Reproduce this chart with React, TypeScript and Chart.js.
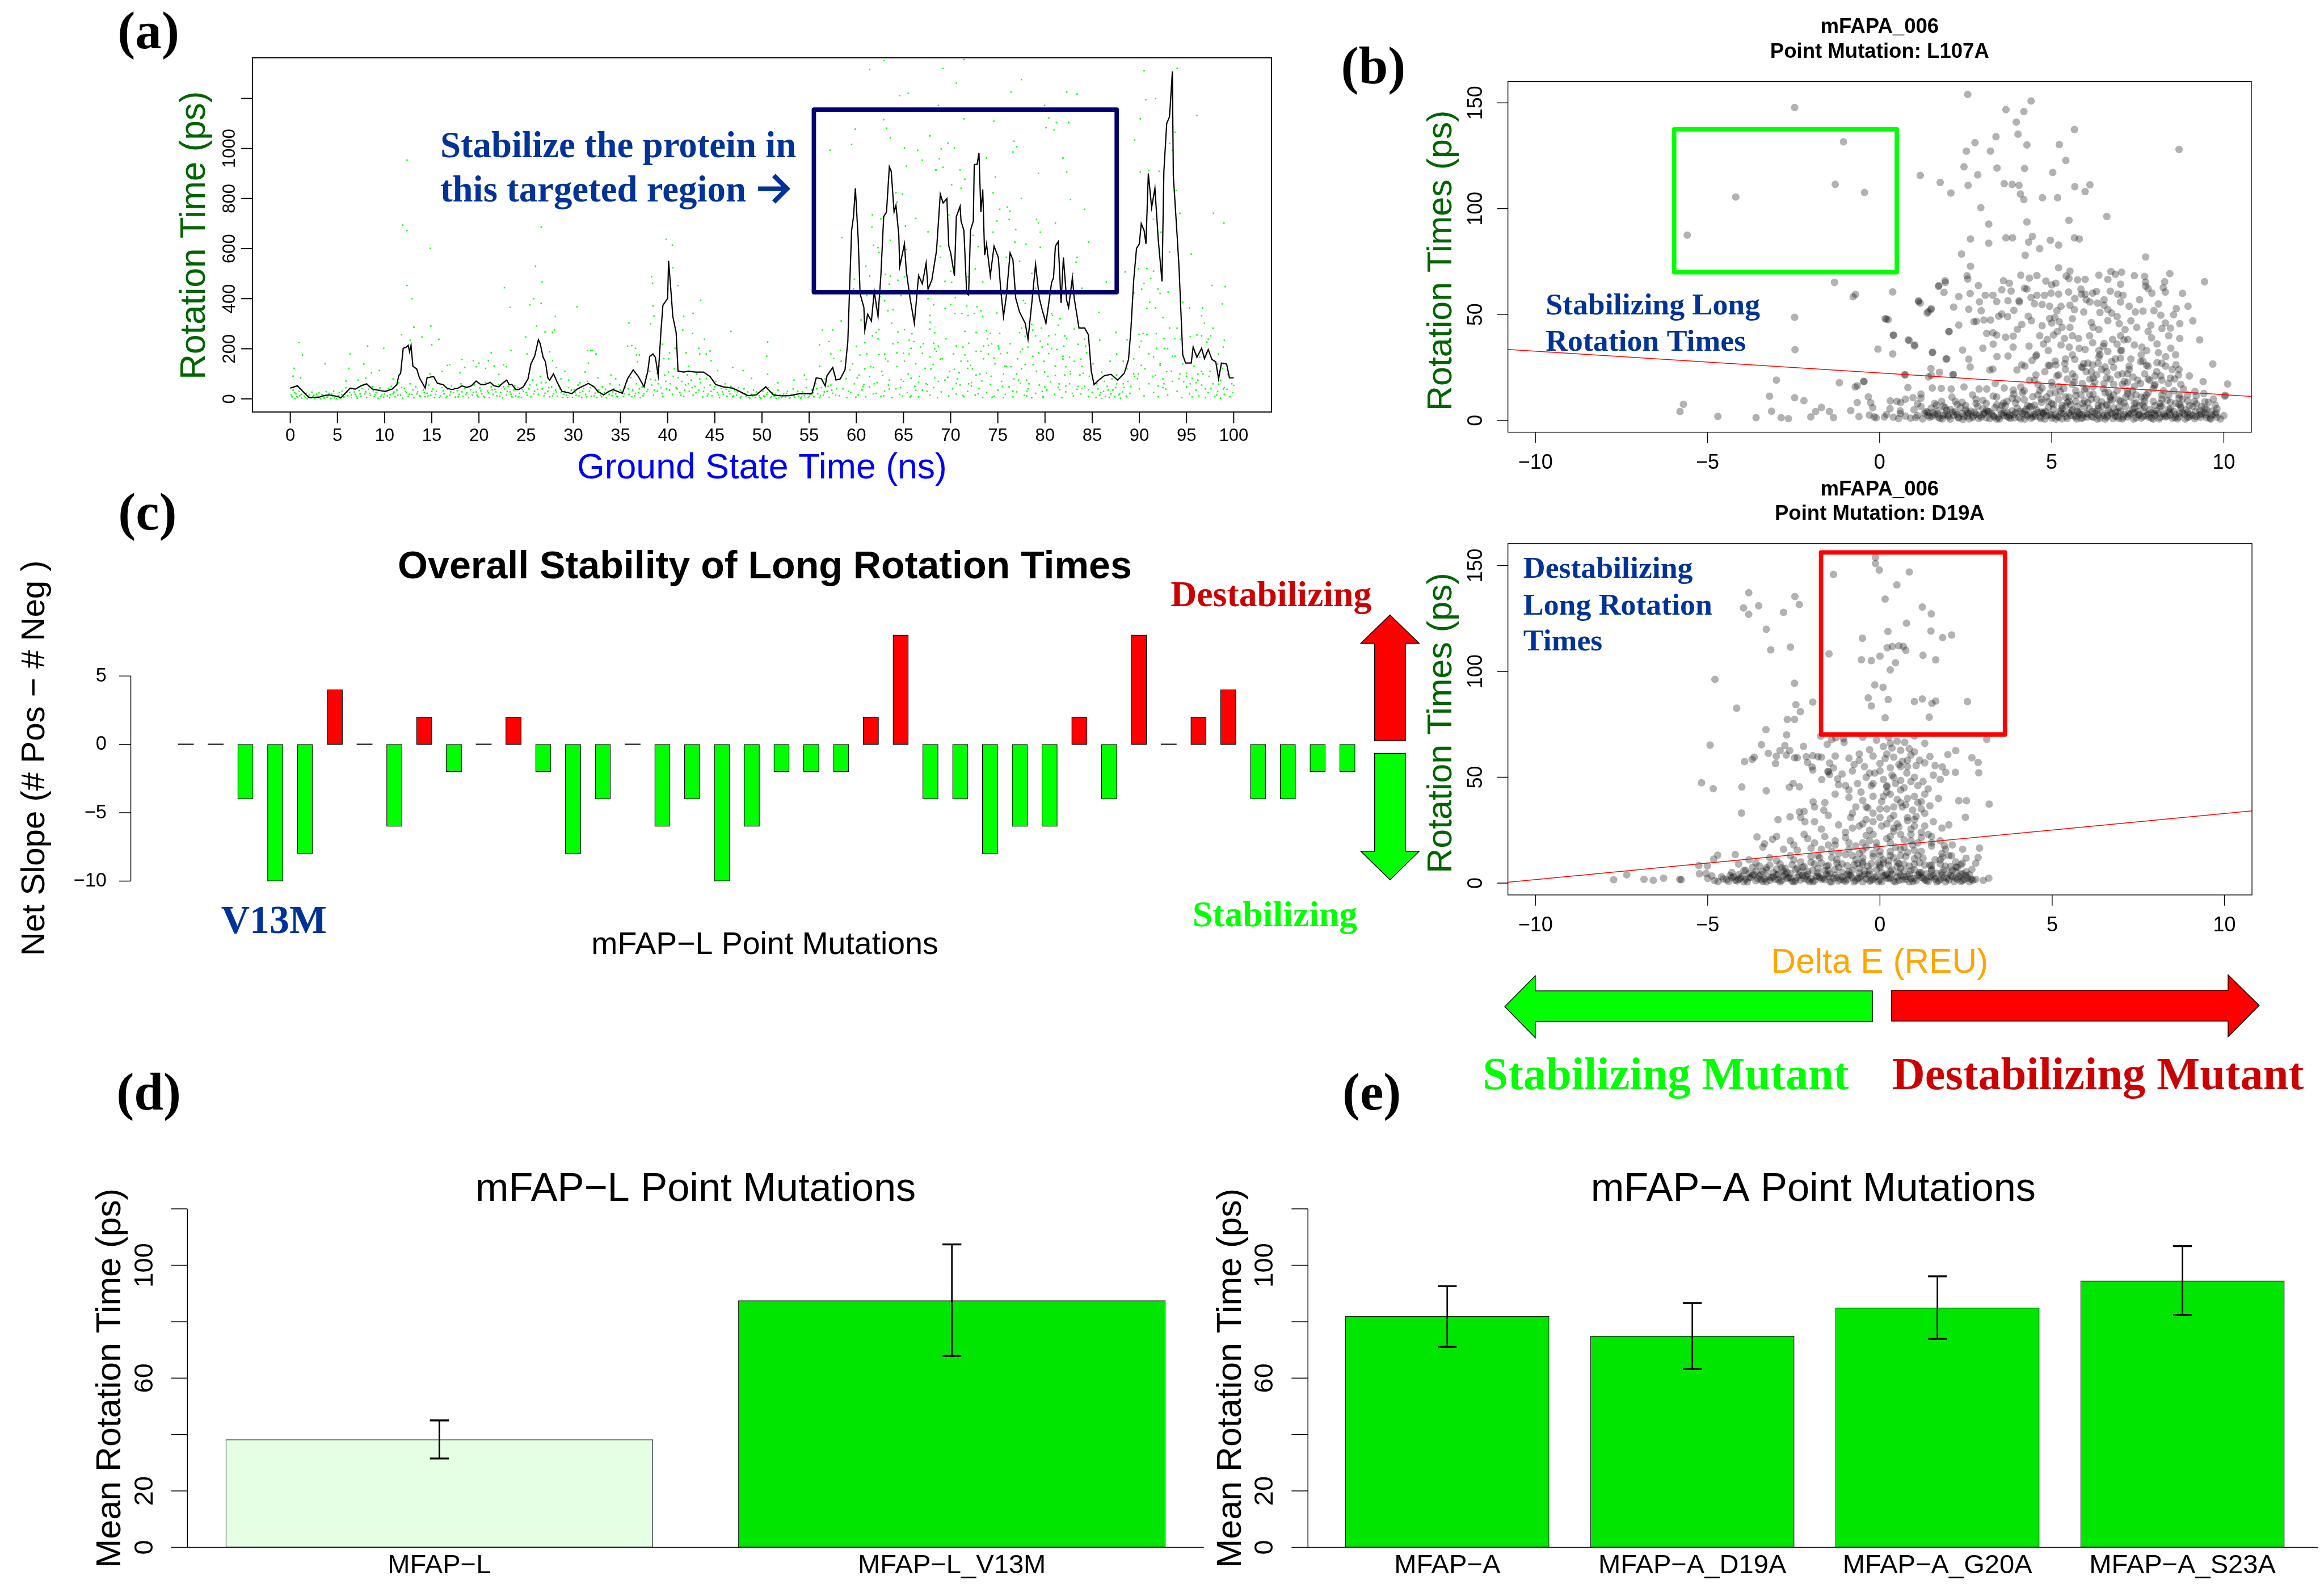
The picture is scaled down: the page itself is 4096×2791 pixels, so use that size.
import React, { useEffect, useRef } from "react";
import { Chart, registerables } from "chart.js";

Chart.register(...registerables);

/* ====================== DATA ====================== */

// (a) moving-average rotation time (black line)
const timeNs = [0,0.75,1.1,1.56,2.0,3.1,3.55,4.1,4.7,5.4,5.9,6.35,6.9,7.5,8.1,8.7,9.5,10.1,10.8,11.3,11.5,11.7,11.97,12.3,12.5,12.65,12.8,13.0,13.4,13.7,14.1,14.3,14.5,15.2,15.6,16.2,16.6,17.1,17.8,18.2,18.7,19.2,19.7,20.2,20.6,21.2,21.6,22.1,22.5,22.95,23.2,23.5,23.9,24.2,24.7,25.2,25.5,25.9,26.1,26.3,26.5,26.8,27.05,27.3,27.5,27.9,28.3,28.8,29.4,29.85,30.4,31.1,31.6,32.2,32.6,33.2,33.8,34.2,35.2,35.75,36.35,36.9,37.5,37.9,38.1,38.45,38.7,39.0,39.3,39.5,40.0,40.1,40.3,40.55,40.9,41.1,41.7,42.2,42.9,43.8,44.5,45.1,45.9,46.9,47.6,48.5,49.4,50.4,51.2,52.0,52.9,54.1,55.3,55.75,56.3,56.7,56.9,57.5,57.85,58.3,58.8,59.1,59.3,59.5,59.7,59.9,60.2,60.4,60.8,60.9,61.2,61.6,61.9,62.3,62.6,62.9,63.2,63.5,63.7,64.0,64.2,64.5,64.6,65.1,65.3,65.7,66.15,66.6,67.0,67.4,67.6,68.0,68.5,68.9,69.2,69.6,69.8,70.0,70.4,70.6,71.0,71.1,71.4,71.7,71.9,72.1,72.4,72.5,72.8,73.0,73.2,73.4,73.6,73.8,74.2,74.6,75.05,75.3,75.6,75.9,76.3,76.6,76.9,77.3,77.9,78.2,78.6,79.0,79.4,79.7,80.1,80.4,80.7,80.9,81.1,81.4,81.7,81.95,82.3,82.5,82.9,83.1,83.6,84.2,84.6,84.9,85.2,85.7,86.3,87.0,87.7,88.4,88.85,89.1,89.4,89.7,90.0,90.2,90.5,90.7,90.95,91.3,91.65,92.0,92.4,92.6,92.9,93.2,93.5,93.6,94.0,94.2,94.6,94.9,95.5,95.7,96.1,96.6,96.9,97.3,97.7,98.1,98.4,98.7,99.25,99.55,100.0];
const rotationLine = [43,52,39,21,5,7,13,16,12,5,25,43,39,52,60,39,33,30,39,57,93,102,202,207,214,188,214,130,120,84,57,43,84,89,62,57,43,37,43,52,46,52,71,57,57,66,52,48,62,75,57,57,37,37,48,80,139,170,202,236,220,166,148,84,75,100,66,30,25,21,39,52,62,48,30,16,30,37,22,80,116,89,48,111,170,179,166,93,275,374,401,551,456,329,265,111,107,111,107,107,89,57,48,43,30,13,16,48,16,12,13,21,21,84,80,52,93,125,75,80,116,229,456,673,728,841,637,420,365,275,338,311,429,329,492,728,746,927,909,746,773,655,528,619,510,401,302,492,460,542,438,474,592,818,782,800,610,583,492,728,769,710,673,420,415,673,710,936,936,982,746,836,574,619,492,610,565,438,329,410,583,555,401,347,302,238,383,537,401,356,302,383,465,483,610,628,383,565,392,365,483,401,283,283,256,111,57,75,93,98,75,102,157,275,474,601,619,700,673,619,900,764,841,637,469,909,1100,1127,1308,891,655,528,175,143,143,207,166,202,161,197,157,148,80,143,139,84,84];

// (a) individual rotation times (green dots)
const greenEarly = [[0.2,8],[0.3,35],[0.5,2],[0.6,20],[0.8,5],[1.0,12],[1.2,3],[1.4,28],[1.6,6],[1.8,1],[2.0,15],[2.2,4],[2.4,9],[2.6,2],[2.8,18],[3.0,5],[3.2,1],[3.4,11],[3.6,3],[3.9,7],[4.1,22],[4.3,2],[4.5,10],[4.7,4],[4.9,1],[5.1,14],[5.3,3],[5.5,30],[5.7,8],[5.9,45],[6.1,12],[6.3,25],[6.5,5],[6.7,40],[6.9,18],[7.1,3],[7.3,33],[7.5,10],[7.7,55],[7.9,20],[8.1,6],[8.3,38],[8.5,14],[8.7,48],[8.9,9],[9.1,26],[9.3,2],[9.5,44],[9.7,16],[9.9,7],[10.1,30],[10.3,12],[10.5,4],[10.7,50],[10.9,20],[11.1,8],[11.3,35],[11.5,65],[11.7,15],[11.9,3],[12.1,42],[12.3,25],[12.5,10],[12.7,60],[12.9,18],[13.1,5],[13.3,48],[13.5,28],[13.7,12],[13.9,70],[14.1,35],[14.3,8],[14.5,22],[14.7,55],[14.9,15],[15.1,40],[15.3,6],[15.5,30],[15.7,62],[15.9,12],[16.1,45],[16.3,20],[16.5,4],[16.7,38],[16.9,14],[17.1,52],[17.3,25],[17.5,7],[17.7,33],[17.9,18],[18.1,60],[18.3,10],[18.5,42],[18.7,24],[18.9,5],[19.1,36],[19.3,15],[19.5,55],[19.7,28],[19.9,8],[20.1,44],[20.3,20],[20.5,10],[20.7,65],[20.9,32],[21.1,6],[21.3,48],[21.5,18],[21.7,38],[21.9,12],[22.1,58],[22.3,25],[22.5,4],[22.7,40],[22.9,15],[23.1,50],[23.3,28],[23.5,8],[23.7,35],[23.9,12],[24.1,45],[24.3,22],[24.5,5],[24.7,30],[24.9,60],[25.1,15],[25.3,40],[25.5,8],[25.7,75],[25.9,30],[26.1,55],[26.3,18],[26.5,90],[26.7,40],[26.9,12],[27.1,65],[27.3,30],[27.5,8],[27.7,48],[27.9,20],[28.1,35],[28.3,10],[28.5,52],[28.7,25],[28.9,5],[29.1,30],[29.3,14],[29.5,45],[29.7,22],[29.9,6],[30.1,38],[30.3,15],[30.5,55],[30.7,25],[30.9,5],[31.1,42],[31.3,18],[31.5,70],[31.7,30],[31.9,10],[32.1,50],[32.3,22],[32.5,6],[32.7,35],[32.9,14],[33.1,48],[33.3,25],[33.5,4],[33.7,30],[33.9,60],[34.1,12],[34.3,40],[34.5,20],[34.7,8],[34.9,55],[35.1,28],[35.3,10],[35.5,45],[35.7,70],[35.9,18],[36.1,85],[36.3,35],[36.5,12],[36.7,60],[36.9,25],[37.1,6],[37.3,48],[37.5,20],[37.7,90],[37.9,38],[38.1,110],[38.3,55],[38.5,15],[38.7,75],[38.9,30],[39.1,130],[39.3,45],[39.5,10],[39.7,95],[39.9,40],[40.1,160],[40.3,60],[40.5,18],[40.7,120],[40.9,45],[41.1,85],[41.3,25],[41.5,70],[41.7,10],[41.9,55],[42.1,95],[42.3,30],[42.5,75],[42.7,15],[42.9,50],[43.1,100],[43.3,35],[43.5,65],[43.7,8],[43.9,45],[44.1,80],[44.3,20],[44.5,55],[44.7,12],[44.9,38],[45.1,70],[45.3,25],[45.5,5],[45.7,42],[45.9,18],[46.1,60],[46.3,10],[46.5,30],[46.7,50],[46.9,8],[47.1,35],[47.3,15],[47.5,45],[47.7,4],[47.9,22],[48.1,40],[48.3,10],[48.5,28],[48.7,3],[48.9,18],[49.1,35],[49.3,6],[49.5,22],[49.7,12],[49.9,2],[50.1,30],[50.3,8],[50.5,18],[50.7,45],[50.9,4],[51.1,25],[51.3,10],[51.5,2],[51.7,35],[51.9,14],[52.1,5],[52.3,20],[52.5,8],[52.7,30],[52.9,2],[53.1,15],[53.3,40],[53.5,6],[53.7,22],[53.9,10],[54.1,3],[54.3,28],[54.5,12],[54.7,45],[54.9,5],[55.1,18],[55.3,35],[55.5,8],[55.7,60],[55.9,20],[56.1,4],[56.3,45],[56.5,15],[56.7,80],[56.9,30],[57.1,6],[57.3,55],[57.5,22],[57.7,100],[57.9,40]];
const greenEarlyMore = [[0.1,15],[0.45,25],[0.7,9],[0.95,30],[1.15,18],[1.5,11],[1.7,22],[1.95,7],[2.3,27],[2.5,14],[2.75,6],[3.05,24],[3.35,17],[3.55,8],[3.8,29],[4.0,13],[4.4,19],[4.6,31],[4.85,9],[5.2,25],[5.45,17],[5.65,6],[6.0,28],[6.2,36],[6.45,15],[6.8,28],[7.0,11],[7.4,20],[7.6,42],[8.0,28],[8.4,22],[8.8,33],[9.0,17],[9.4,37],[9.6,9],[10.0,20],[10.4,42],[10.6,17],[11.0,27],[11.4,15],[11.8,45],[12.2,30],[12.6,18],[13.0,36],[13.4,20],[13.8,9],[14.2,25],[14.6,12],[15.0,30],[15.4,18],[15.8,6],[16.2,32],[16.6,10],[17.0,28],[17.4,42],[17.8,8],[18.2,28],[18.6,17],[19.0,48],[19.4,25],[19.8,14],[20.2,32],[20.6,6],[21.0,25],[21.4,36],[21.8,28],[22.2,10],[22.6,48],[23.0,30],[23.4,18],[23.8,52],[24.2,8],[24.6,38],[25.0,25],[25.4,55],[25.8,20],[26.2,38],[26.6,65],[27.0,22],[27.4,45],[27.8,12],[28.2,28],[28.6,40],[29.0,18],[29.4,6],[29.8,35],[30.2,25],[30.6,12],[31.0,30],[31.4,8],[31.8,45],[32.2,12],[32.6,28],[33.0,8],[33.4,38],[33.8,18],[34.2,28],[34.6,10],[35.0,35],[35.4,20],[35.8,40],[36.2,8],[36.6,22],[37.0,40],[37.4,12],[37.8,30],[38.2,78],[38.6,35],[39.0,60],[39.4,22],[39.8,70],[40.2,35],[40.6,90],[41.0,40],[41.4,15],[41.8,35],[42.2,60],[42.6,45],[43.0,25],[43.4,80],[43.8,30],[44.2,12],[44.6,30],[45.0,48],[45.4,15],[45.8,28],[46.2,38],[46.6,20],[47.0,12],[47.4,28],[47.8,8],[48.2,20],[48.6,6],[49.0,12],[49.4,28],[49.8,5],[50.2,12],[50.6,25],[51.0,8],[51.4,18],[51.8,4],[52.2,12],[52.6,22],[53.0,6],[53.4,12],[53.8,30],[54.2,8],[54.6,20],[55.0,10],[55.4,25],[55.8,40],[56.2,12],[56.6,28],[57.0,50],[57.4,35],[57.8,15]];
const greenLate = [[58.2,12],[58.6,40],[59.0,5],[59.4,25],[59.8,60],[60.2,15],[60.6,35],[61.0,8],[61.4,48],[61.8,20],[62.2,65],[62.6,10],[63.0,30],[63.4,55],[63.8,5],[64.2,40],[64.6,18],[65.0,70],[65.4,25],[65.8,12],[66.2,50],[66.6,8],[67.0,35],[67.4,60],[67.8,15],[68.2,45],[68.6,5],[69.0,28],[69.4,75],[69.8,12],[70.2,40],[70.6,20],[71.0,55],[71.4,8],[71.8,30],[72.2,65],[72.6,15],[73.0,42],[73.4,5],[73.8,25],[74.2,58],[74.6,10],[75.0,35],[75.4,70],[75.8,18],[76.2,48],[76.6,8],[77.0,28],[77.4,62],[77.8,14],[78.2,40],[78.6,5],[79.0,22],[79.4,55],[79.8,10],[80.2,35],[80.6,68],[81.0,18],[81.4,45],[81.8,6],[82.2,28],[82.6,60],[83.0,12],[83.4,38],[83.8,20],[84.2,50],[84.6,8],[85.0,25],[85.4,5],[85.6,40],[85.8,15],[86.0,2],[86.2,30],[86.4,10],[86.6,50],[86.8,5],[87.0,20],[87.2,35],[87.4,8],[87.6,60],[87.8,15],[88.0,3],[88.2,28],[88.4,45],[88.6,10],[88.8,70],[89.0,22],[89.5,90],[90.0,40],[90.5,12],[91.0,60],[91.5,25],[92.0,8],[92.5,45],[93.0,15],[93.5,70],[94.0,30],[94.5,5],[95.0,48],[95.3,20],[95.6,8],[96.0,35],[96.3,12],[96.6,55],[97.0,5],[97.3,25],[97.6,42],[98.0,10],[98.3,30],[98.6,3],[99.0,18],[99.3,38],[99.6,8],[99.9,25]];
const greenLateMore = [[58.4,150],[58.9,80],[59.2,30],[59.6,140],[60.0,210],[60.3,95],[60.7,50],[61.1,180],[61.5,130],[61.9,60],[62.3,240],[62.7,110],[63.1,160],[63.5,75],[63.9,220],[64.3,130],[64.7,45],[65.1,150],[65.5,100],[65.9,260],[66.3,140],[66.7,90],[67.1,220],[67.5,30],[67.9,120],[68.3,200],[68.7,70],[69.1,160],[69.5,240],[69.9,110],[70.3,180],[70.7,80],[71.1,150],[71.5,270],[71.9,60],[72.3,120],[72.7,190],[73.1,100],[73.5,160],[73.9,240],[74.3,90],[74.7,140],[75.1,200],[75.5,50],[75.9,130],[76.3,220],[76.7,80],[77.1,160],[77.5,120],[77.9,250],[78.3,60],[78.7,170],[79.1,110],[79.5,230],[79.9,150],[80.3,90],[80.7,200],[81.1,130],[81.5,60],[81.9,170],[82.3,240],[82.7,100],[83.1,150],[83.5,50],[83.9,130],[84.3,210],[84.7,90],[85.1,140],[85.5,60],[85.9,25],[86.3,70],[86.7,35],[87.1,80],[87.5,45],[87.9,20],[88.3,60],[88.7,120],[89.1,50],[89.4,160],[89.8,80],[90.2,230],[90.6,120],[91.0,180],[91.4,90],[91.8,260],[92.2,140],[92.6,60],[93.0,200],[93.4,110],[93.8,170],[94.2,80],[94.6,140],[95.0,90],[95.4,60],[95.8,130],[96.2,75],[96.6,110],[97.0,40],[97.4,90],[97.8,60],[98.2,15],[98.6,75],[99.0,45],[99.4,100],[99.8,60]];
const greenHighEarly = [[12.37,953],[11.9,694],[12.37,672],[14.85,601],[12.37,453],[12.9,400],[13.1,286],[14.9,291],[13.95,247],[15.75,238],[15.0,216],[11.8,256],[12.7,234],[0.93,225],[1.3,175],[0.4,122],[0.3,91],[1.1,84],[3.7,140],[6.35,179],[6.2,122],[8.2,211],[7.8,139],[8.6,104],[9.45,113],[9.9,202],[8.0,82],[5.9,71],[7.2,75],[10.9,80],[26.6,687],[26.0,530],[26.7,467],[22.7,444],[25.8,400],[25.4,376],[26.6,381],[23.3,365],[30.4,368],[28.1,329],[28.0,275],[27.8,265],[26.1,291],[24.96,247],[27.0,267],[25.1,179],[23.4,193],[21.3,184],[27.5,188],[31.5,193],[31.85,193],[31.6,143],[32.4,179],[27.8,152],[28.2,125],[31.25,107],[18.2,157],[19.4,152],[20.0,143],[21.0,152],[21.6,131],[22.6,137],[22.9,128],[19.7,128],[16.65,134],[16.9,137],[16.1,109],[14.8,100],[18.5,125],[18.0,104],[20.7,122],[22.1,98],[29.1,110],[28.7,80],[29.5,75],[30.7,64]];
const greenHighMid = [[62.95,1351],[61.4,1315],[64.6,1211],[65.5,1220],[62.9,1115],[63.2,1081],[59.9,1077],[63.6,1042],[59.5,1016],[57.2,993],[65.1,1002],[66.5,993],[67.0,953],[65.3,930],[67.8,1050],[68.4,914],[64.2,823],[64.9,818],[64.35,787],[61.7,735],[62.6,719],[66.3,721],[65.2,690],[61.65,687],[58.5,644],[67.6,667],[61.8,614],[62.3,604],[63.6,633],[65.3,596],[62.4,585],[61.0,530],[61.4,490],[63.1,497],[63.6,490],[65.1,488],[64.4,474],[59.8,478],[63.5,458],[59.7,440],[61.1,412],[62.5,409],[64.75,412],[63.0,391],[67.6,400],[62.1,367],[63.35,352],[63.9,356],[60.5,315],[58.4,311],[63.75,302],[64.4,267],[65.1,276],[62.4,276],[62.1,265],[61.7,252],[67.8,279],[56.4,275],[57.5,275],[57.1,229],[60.9,225],[56.1,216],[64.4,225],[65.6,234],[66.1,229],[66.8,207],[65.8,202],[60.4,175],[62.4,177],[63.0,179],[64.3,184],[65.0,182],[65.6,179],[67.0,182],[63.35,150],[67.3,122],[68.15,138],[60.9,120],[61.8,125],[59.3,116],[57.3,179],[57.6,161],[58.3,193],[56.1,130],[60.1,84],[61.4,89],[62.8,93],[64.75,77],[65.8,82],[66.6,66],[67.55,57],[66.3,34],[63.5,39],[60.8,57],[62.1,22],[59.95,7],[62.9,12],[64.9,12],[65.7,7],[39.85,637],[40.5,614],[38.3,488],[38.4,462],[40.55,524],[41.1,453],[43.5,394],[38.45,371],[42.7,342],[41.7,329],[38.55,331],[35.9,304],[38.2,300],[46.7,270],[42.65,261],[41.6,275],[43.9,238],[35.75,211],[36.2,213],[36.6,202],[39.45,218],[50.6,227],[40.8,202],[43.3,202],[36.7,175],[37.0,175],[43.4,179],[44.1,179],[44.5,191],[50.5,170],[32.4,177],[32.0,193],[44.6,152],[41.95,184],[40.2,184],[39.6,161],[36.8,148],[48.0,113],[46.9,125],[45.3,113],[42.2,130],[38.9,102],[40.1,107],[34.5,80],[34.0,95],[32.6,84],[54.5,95],[54.7,77],[51.7,64],[48.9,82],[50.6,98],[53.4,75]];
const greenHighLate = [[71.4,1355],[69.2,1320],[70.6,1261],[77.5,1275],[76.4,1226],[82.3,1226],[83.4,1217],[90.5,1311],[94.0,1320],[90.7,1195],[91.7,1199],[68.7,1172],[79.96,1172],[71.4,1118],[74.6,1109],[80.4,1122],[81.2,1104],[82.5,1104],[80.1,1083],[80.97,1074],[90.1,1118],[96.1,1131],[67.8,1051],[93.8,1065],[89.5,1034],[69.7,1021],[70.4,1002],[76.7,1029],[77.0,1007],[76.6,986],[69.0,998],[93.2,1020],[93.5,993],[68.8,959],[73.8,962],[81.9,962],[69.2,925],[68.5,914],[71.0,914],[82.3,906],[79.3,900],[74.75,886],[71.5,877],[91.0,912],[92.1,909],[90.1,906],[70.1,855],[71.1,841],[74.5,823],[77.5,800],[82.7,796],[93.9,832],[94.3,741],[97.85,741],[98.97,702],[75.2,757],[76.0,766],[76.3,750],[84.2,757],[91.5,717],[69.8,735],[74.9,710],[76.2,717],[79.1,717],[79.3,702],[81.1,702],[72.4,653],[74.5,666],[76.9,676],[79.5,666],[92.3,666],[84.6,626],[76.8,626],[78.0,617],[79.5,605],[93.2,587],[92.1,585],[95.5,578],[72.9,608],[68.9,610],[68.9,565],[75.9,565],[77.3,549],[83.4,565],[83.3,546],[72.6,519],[70.0,510],[78.6,501],[82.95,501],[88.5,507],[89.9,519],[90.8,521],[91.5,510],[91.2,481],[71.85,487],[69.4,469],[70.1,465],[73.4,467],[86.5,467],[83.9,442],[79.0,442],[97.7,453],[99.1,448],[90.5,460],[91.96,439],[90.25,438],[93.05,427],[92.2,421],[89.4,422],[70.5,404],[94.6,386],[91.1,386],[68.2,376],[70.0,377],[77.9,381],[77.7,392],[98.8,379],[71.7,370],[72.8,368],[90.8,361],[91.7,363],[95.3,363],[96.7,363],[69.4,361],[73.2,352],[85.7,345],[74.9,343],[80.7,341],[71.85,333],[72.5,341],[71.2,341],[67.8,333],[70.45,341],[73.4,329],[96.6,332],[78.6,297],[80.8,333],[81.6,320],[92.5,324],[96.9,302],[97.8,282],[93.2,283],[83.1,279],[79.6,283],[77.5,283],[81.4,294],[67.8,306],[68.3,264],[72.7,265],[73.8,272],[74.2,261],[75.2,261],[77.3,264],[78.7,275],[79.0,252],[80.4,252],[81.1,256],[82.1,252],[87.5,265],[89.97,258],[90.4,261],[90.8,256],[94.0,282],[95.4,249],[96.1,255],[96.6,252],[97.55,252],[94.35,238],[97.3,238],[99.0,234],[92.6,241],[93.75,241],[97.15,227],[84.2,238],[85.8,234],[88.7,236],[68.2,222],[71.9,222],[74.35,220],[68.7,211],[70.6,211],[71.3,207],[73.5,211],[74.0,213],[75.05,211],[78.2,207],[79.7,207],[80.3,218],[81.25,197],[82.0,211],[83.5,218],[90.0,207],[92.7,202],[98.9,207],[91.8,202],[77.6,199],[68.5,190],[73.2,190],[77.4,188],[84.4,184],[98.4,179],[67.8,168],[68.9,159],[71.5,175],[74.0,179],[74.6,163],[75.3,181],[76.0,184],[79.3,184],[80.4,181],[81.9,159],[82.6,166],[83.8,159],[86.9,150],[87.6,179],[88.3,150],[91.5,168],[93.5,170],[96.0,179],[96.4,166],[71.8,150],[72.1,134],[75.75,131],[76.4,128],[77.9,137],[78.75,137],[81.1,131],[82.2,128],[90.2,134],[92.2,134],[98.3,139],[98.8,122],[71.8,122],[70.4,118],[70.9,104],[75.6,100],[77.0,100],[79.96,107],[82.7,109],[86.0,107],[92.9,109],[95.0,102],[96.75,100],[97.5,110],[94.3,100],[72.7,95],[73.8,102],[69.7,86],[68.3,84],[81.1,93],[82.1,95],[83.7,95],[84.05,102],[87.6,95],[89.4,100],[89.9,100],[91.7,93],[92.5,80],[95.6,82],[96.2,99],[73.3,71],[77.2,75],[78.05,75],[70.6,61],[94.7,68],[96.0,64],[98.4,59],[100.0,54],[92.0,52],[72.2,51],[79.96,48],[81.4,46],[82.2,51],[83.9,41],[84.6,37],[81.55,37],[92.8,39],[98.9,39],[78.1,32],[79.7,30],[76.6,31],[82.9,22],[71.3,13],[78.05,12],[79.8,5],[74.4,7],[75.6,5],[72.9,21]];

const aXTicks = [0,5,10,15,20,25,30,35,40,45,50,55,60,65,70,75,80,85,90,95,100];
const aYTicks = [0,200,400,600,800,1000,1200];
const aYLabels = ["0","200","400","600","800","1000"];
const targetRegion = { x0: 55.5, x1: 87.6, y0: 426, y1: 1155 };

// (b) top: L107A  (Delta E vs rotation time)
const l107aSparse = [[2.56,154],[-2.47,147.8],[4.4,150.9],[3.67,146.8],[4.19,145.9],[3.97,140.9],[5.66,137.4],[4.02,135.2],[3.38,134],[-1.05,131.6],[2.77,131.2],[4.28,130.1],[5.22,130.3],[2.52,127.2],[3.22,127.2],[8.7,128],[2.45,119.8],[3.41,119.2],[4.21,119],[5.41,122.8],[2.85,116],[5.03,117.1],[1.18,115.7],[1.76,112.4],[2.57,111],[3.62,111.8],[3.85,111.5],[4.05,111],[5.67,110.4],[6.11,111.3],[5.97,108.1],[-1.29,111.5],[-0.44,107.7],[-4.18,105.5],[2.07,107.4],[4.09,106.9],[4.19,104.3],[4.73,105.2],[5.17,105.2],[2.94,100.5],[6.6,96.3],[4.28,93.7],[5.5,94.5],[3.17,92.7],[-5.59,87.5],[2.64,85.7],[3.67,86.2],[3.86,86.2],[4.44,86.9],[5.66,86.2],[5.8,85.7],[3.17,83.7],[4.96,85.1],[5.2,82.8],[4.33,84.2],[4.65,81.1],[2.38,78.6],[7.73,77.2],[4.23,78],[2.64,72.8],[5.2,72.1],[-1.31,65.2],[1.9,66],[1.72,63.7],[2.54,68.3],[0.38,60.7],[-0.7,59.5],[-0.77,58.4],[1.13,56.1],[1.41,51.3],[1.5,52.8],[-2.47,48.7],[0.19,47.8],[2.02,42],[0.4,40.2],[0.83,38],[1.01,35.2],[-2.46,33.4],[-0.05,33.7],[0.38,31.4],[1.53,32],[1.93,29],[-3,19],[-1.17,17.8],[-0.47,18.4],[-0.65,16.3],[0.73,21.6],[1.5,21.3],[1.74,22.7],[2.14,21.7],[-5.7,7.6],[-5.8,4.2],[-4.7,1.9],[-3.59,1.3],[-3.2,11.4],[-3.14,4.3],[-2.86,1.3],[-2.65,0.8],[-2.47,10.7],[-2.2,9.3],[-2,1.6],[-1.86,4.2],[-1.69,6.1],[-1.46,4.2],[-1.34,1.3],[-0.84,4.6],[-0.65,8.4],[-0.33,11.1],[-0.26,8.3],[-0.16,1.6],[0.14,1.6],[0.31,9.2],[0.61,8.4],[0.75,10],[0.97,10.7],[9.68,26.6],[10.03,11.4]];
const l107aBand = [[1.71,63.3],[1.91,65.1],[2.56,66.8],[2.87,63.7],[1.87,60.5],[2.3,58.5],[2.63,59.9],[3.07,59.1],[3.29,59.1],[3.55,61.7],[3.77,64.8],[3.82,61.1],[4.05,56.5],[4.21,62.4],[4.28,62],[4.57,59.1],[4.79,59.1],[4.98,60.1],[5.2,59.6],[5.49,60.6],[5.67,57.5],[5.86,59.6],[5.97,59.6],[6.19,60.1],[6.3,60.9],[6.52,57],[6.92,59.6],[7,64.3],[7.07,59.1],[7.73,63.4],[7.8,62.2],[7.91,60.1],[8.24,62.7],[8.3,60.6],[4.1,68.6],[4.35,67.2],[4.57,68.4],[4.83,65.8],[5.12,64.8],[5.42,68.2],[5.53,70.5],[5.75,66.4],[5.97,66.6],[6.37,68.6],[6.63,66.6],[6.72,70.3],[6.85,69],[7.03,70],[7.4,68.4],[7.73,65.3],[8.28,65.5],[8.43,69.3],[9.44,65.5],[1.13,56.5],[1.18,55.4],[2.15,53.5],[2.59,52.5],[2.95,51.8],[3.4,56.1],[3.73,56.5],[4.06,55.9],[4.5,55.1],[4.72,54.7],[4.94,53.9],[5.15,51.8],[5.27,53.9],[5.53,54.4],[5.66,52.3],[5.93,51.2],[6.11,55.9],[6.33,55.4],[6.52,54.4],[6.63,52.3],[6.74,50.7],[7,55.9],[7.25,53.9],[7.43,51.2],[7.65,51.6],[7.97,51.8],[8.17,49.7],[8.54,49.9],[8.62,52.8],[8.96,53.9],[0.16,48.1],[0.25,47.6],[1.38,50.7],[1.49,52.3],[2.74,46.6],[2.81,46.8],[3.03,47.4],[3.22,47.4],[3.46,49.2],[3.55,50.2],[3.72,49],[4.13,45.3],[4.32,49.2],[4.41,47.1],[4.72,44.7],[4.94,48.1],[5.09,48.6],[5.22,46.6],[5.53,43.9],[6.15,46.2],[6.37,42.9],[6.63,47.1],[6.96,45.7],[7.13,42.9],[7.47,43.9],[7.88,45],[8.2,43.4],[8.45,43.6],[8.72,45.7],[0.4,40.3],[0.86,37.7],[1.02,35.6],[1.54,32.2],[2.01,41.9],[2.41,33.2],[3,34.1],[3.11,41.1],[3.29,41.4],[3.4,40.3],[3.66,39.3],[3.88,39.8],[3.88,34.6],[4.34,35.1],[4.56,30.9],[4.76,36.1],[4.87,38.2],[5.05,40.3],[5.16,41.9],[5.27,35.6],[5.37,38.7],[5.51,34.6],[5.78,38.7],[5.97,33.5],[6.19,36.7],[6.37,33],[6.52,36.3],[6.63,32.5],[6.77,38.2],[7.03,33],[7.21,38.2],[7.4,35.6],[7.62,34.6],[7.76,33],[8.06,36.1],[8.31,30.1],[8.46,34.1],[8.72,38.7],[0.74,21.5],[1.42,20.5],[1.49,24.5],[1.95,29.1],[2.13,21.5],[2.59,28.9],[2.63,25.2],[3.2,23.8],[3.29,24.2],[3.41,30.1],[3.73,30.4],[3.99,23.8],[4.13,26.2],[4.22,25.6],[4.43,28.3],[4.54,30.4],[4.94,25.9],[5.12,26.2],[5.38,26.8],[5.6,30.9],[5.67,28.8],[5.86,25.2],[5.93,26.8],[6.19,26.2],[6.37,29.9],[6.55,25.2],[6.74,27.8],[7,29.4],[7.25,25.6],[7.58,27.8],[7.8,25.6],[8.06,27.3],[8.31,25.6],[8.61,26.2],[8.68,21.5],[9.4,18.3],[-0.71,15.8],[-0.45,18.4],[0.82,15.5],[1.2,12.4],[1.53,15.3],[1.79,15.1],[2.08,14.8],[2.45,15.8],[2.89,14.8],[3.11,14.8],[3.36,17.4],[3.62,15.3],[3.88,14.3],[4.1,15.8],[4.35,18.9],[4.54,21.5],[4.72,15.3],[5.01,16.3],[5.2,21.5],[5.45,19.5],[5.67,20.5],[5.89,17.4],[6.11,19.5],[6.3,21.5],[6.52,17.4],[6.7,19.5],[6.92,21.5],[7.11,18.4],[7.36,20.5],[7.58,17.4],[7.8,19.5],[7.98,16.3],[8.17,21],[8.39,17.4],[8.57,19.5],[8.83,14.8],[9.16,13.7],[9.42,12.7],[10.11,17.2],[10.04,11.9],[4.6,12],[4.9,9],[5.1,13],[5.3,7],[5.5,11],[5.7,14],[5.9,8],[6.1,12],[6.3,10],[6.5,15],[6.6,7],[6.8,12],[7,9],[7.2,14],[7.4,8],[7.6,11],[7.8,13],[8,7],[8.2,10],[8.4,12],[8.6,8],[8.8,10],[9,7],[4,10],[4.3,7],[3.7,9],[3.4,11],[3.1,8],[2.8,10],[2.5,7],[2.2,9],[1.9,6],[1.6,8],[5,18],[5.6,17],[6.2,16],[6.8,17],[7.4,16],[8,17],[6,23],[6.6,23],[7.2,22],[5.4,24],[7.7,22]];
const l107aBandMore = [[2.3,45],[2.9,56],[3.3,36],[3.6,66],[4.0,43],[4.4,58],[4.65,40],[5.0,64],[5.3,44],[5.6,48],[5.85,62],[6.1,40],[6.4,51],[6.7,61],[7.0,40],[7.3,47],[7.55,57],[7.9,39],[8.1,55],[8.4,40],[8.8,60],[9.1,47],[3.9,52],[4.9,33],[6.0,57],[6.9,36],[7.7,68],[8.6,31],[9.3,38],[5.5,67],[4.2,14],[4.5,19],[4.8,23],[5.1,28],[5.35,15],[5.6,22],[5.85,12],[6.05,27],[6.25,18],[6.45,24],[6.65,13],[6.85,29],[7.05,17],[7.25,24],[7.45,12],[7.65,28],[7.85,19],[8.05,23],[8.25,14],[8.5,24],[8.75,17],[9,21],[4.7,10],[5.2,16],[5.7,9],[6.2,20],[6.7,10],[7.2,18],[7.7,9],[8.2,19],[8.7,12],[6.4,31],[7.0,33],[7.6,31],[5.8,34],[8.1,32],[6.9,14],[7.3,11],[6.0,15],[5.4,11]];
const l107aDense = [[-0.6,1.8],[-0.3,2.5],[-0.1,1.2],[0.2,2.8],[0.4,1.5],[0.6,3.2],[0.9,1],[1.1,2.2],[1.3,3.4],[1.45,1.4],[1.6,2.6],[1.75,0.9],[1.9,3],[2,1.7],[2.15,2.4],[2.3,1.1],[2.4,3.3],[2.55,2],[2.7,1.3],[2.8,2.9],[2.95,1.6],[3.05,3.5],[3.2,0.8],[3.3,2.3],[3.45,1.5],[3.55,3.1],[3.7,1.9],[3.8,0.9],[3.9,2.7],[4.05,1.4],[4.15,3.4],[4.3,2.1],[4.4,1],[4.5,2.9],[4.65,1.6],[4.75,3.3],[4.85,2.2],[5,1.1],[5.1,2.6],[5.2,1.5],[5.35,3.2],[5.45,0.9],[5.55,2.4],[5.7,1.7],[5.8,3],[5.9,1.2],[6.05,2.7],[6.15,1.9],[6.25,3.4],[6.4,1],[6.5,2.3],[6.6,1.5],[6.75,3.1],[6.85,2],[6.95,0.9],[7.1,2.8],[7.2,1.6],[7.3,3.3],[7.45,1.2],[7.55,2.5],[7.65,1.8],[7.8,3],[7.9,1.1],[8,2.4],[8.15,1.5],[8.25,3.2],[8.35,2],[8.5,1],[8.6,2.7],[8.7,1.6],[8.85,3],[8.95,1.3],[9.1,2.3],[9.2,1.8],[9.35,3.1],[9.5,1.2],[9.65,2.5],[9.8,1.5],[10,2.2],[1,5],[1.2,6.5],[1.35,4.2],[1.5,5.8],[1.7,4.6],[1.85,6.8],[2.05,5.2],[2.2,4.1],[2.35,6.2],[2.5,5],[2.65,4.4],[2.85,6.6],[3,5.4],[3.15,4.3],[3.35,6],[3.5,4.9],[3.65,6.9],[3.85,4.5],[4,5.7],[4.2,4.2],[4.35,6.4],[4.55,5.1],[4.7,4],[4.9,6.1],[5.05,5.3],[5.25,4.4],[5.4,6.7],[5.6,5],[5.75,4.2],[5.95,6.3],[6.1,5.5],[6.3,4.3],[6.45,6.8],[6.65,4.8],[6.8,5.9],[7,4.4],[7.15,6.5],[7.35,5.2],[7.5,4.1],[7.7,6.2],[7.85,5],[8.05,4.5],[8.2,6.6],[8.4,5.3],[8.55,4.2],[8.75,6],[8.9,4.9],[9.1,6.5],[9.3,4.6],[9.45,5.8],[9.65,4.3],[9.8,5.5],[0.3,5.5],[0.6,4.5],[-0.2,6],[1.8,9],[2.1,11],[2.4,8.5],[2.7,12],[3,9.5],[3.3,11.5],[3.6,8.2],[3.9,12.5],[4.2,9.8],[4.45,11.2],[4.7,8.5],[4.95,12.8],[5.2,10],[5.45,8.4],[5.7,11.8],[5.95,9.2],[6.2,12.4],[6.45,8.8],[6.7,11],[6.95,9.6],[7.2,12.6],[7.45,8.3],[7.7,10.8],[7.95,9],[8.2,12],[8.45,8.6],[8.7,10.5],[8.95,9.2],[9.2,11.6],[9.45,8.8],[9.7,10],[1.2,10.5],[0.5,9]];
const l107aDenseMore = [[0.55,0.8],[0.75,2],[1.05,1.3],[1.25,0.7],[1.4,2.3],[1.55,3.6],[1.7,1.6],[1.85,2.2],[2.05,0.6],[2.25,2.8],[2.45,1.9],[2.6,0.7],[2.75,3.8],[2.9,2.4],[3.1,1.2],[3.25,3.1],[3.4,0.6],[3.6,2.2],[3.75,1.4],[3.95,3.6],[4.1,0.7],[4.25,2.6],[4.45,1.7],[4.6,3.8],[4.8,0.6],[4.95,2.8],[5.15,1.8],[5.3,0.7],[5.5,3.5],[5.65,2.1],[5.85,0.8],[6,3.2],[6.2,1.4],[6.35,2.4],[6.55,0.6],[6.7,3.6],[6.9,1.8],[7.05,0.7],[7.25,2.6],[7.4,3.8],[7.6,1.1],[7.75,2.2],[7.95,0.6],[8.1,3.4],[8.3,1.6],[8.45,2.5],[8.65,0.7],[8.8,3.6],[9,1.8],[9.15,0.8],[9.3,2.6],[9.45,3.6],[9.6,1.1],[9.75,2.8],[9.9,0.7],[1.1,7.8],[1.4,3.8],[1.65,7.2],[1.95,4.8],[2.25,7.6],[2.55,3.9],[2.8,8],[3.1,4.6],[3.4,7.4],[3.7,3.8],[3.95,8.2],[4.25,5.2],[4.5,7.2],[4.75,3.6],[5,8],[5.3,5.6],[5.55,7.4],[5.8,3.8],[6.05,8.3],[6.35,5.7],[6.6,7.6],[6.85,3.8],[7.1,8.2],[7.4,5.8],[7.65,7.4],[7.9,3.6],[8.15,8],[8.45,5.4],[8.7,7.6],[8.95,3.8],[9.2,7.8],[9.5,5.2],[9.75,7.2]];
const l107aCore = [[1.52,1.9],[1.68,3.1],[1.82,0.7],[1.98,2.5],[2.12,3.9],[2.28,1.5],[2.42,0.5],[2.58,3.3],[2.72,2.1],[2.88,0.9],[3.02,2.9],[3.18,4.1],[3.32,1.7],[3.48,0.6],[3.62,3.7],[3.78,2.4],[3.92,1.2],[4.08,4.3],[4.22,0.6],[4.38,3],[4.52,1.9],[4.68,0.8],[4.82,4.2],[4.98,2.4],[5.12,0.6],[5.28,3.6],[5.42,1.9],[5.58,4.3],[5.72,0.7],[5.88,2.6],[6.02,1.5],[6.18,4.2],[6.32,0.6],[6.48,3.5],[6.62,2.3],[6.78,0.8],[6.92,4],[7.08,1.6],[7.22,3.4],[7.38,0.6],[7.52,2.7],[7.68,4.2],[7.82,1.5],[7.98,3.4],[8.12,0.7],[8.28,2.5],[8.42,4],[8.58,1.3],[8.72,3.3],[8.88,0.6],[9.02,2.9],[9.18,4.2],[9.32,1.4],[9.48,2.6],[9.62,0.6],[9.78,3.6],[3.55,7],[3.85,10.5],[4.15,13],[4.4,6.5],[4.65,14],[4.85,11],[5.05,7.5],[5.25,13.5],[5.5,9],[5.75,6.5],[5.95,14.5],[6.15,10],[6.35,7],[6.55,13],[6.75,9.5],[6.95,6.2],[7.15,11],[7.35,14],[7.55,7],[7.75,12],[7.95,15],[8.15,6.5],[8.35,9.5],[8.55,14],[8.75,6.8],[8.95,12],[9.15,9],[9.35,6.5],[9.55,8.5],[4.6,17],[4.9,26],[5.15,21],[5.4,29],[5.65,18],[5.9,25],[6.15,23],[6.35,27],[6.6,20],[6.8,25],[7.05,22],[7.3,29],[7.5,19],[7.75,26],[8.0,21],[8.2,27],[8.45,20],[8.7,24],[6.5,35],[7.1,38],[5.6,40],[7.8,42],[6.2,44],[8.3,46],[5.0,46],[6.9,49]];
const l107aFit = [[-10.8,33.5],[10.8,11.3]];

// (b) bottom: D19A
const d19aSparse = [[-0.13,153.9],[-0.13,151],[-0.02,147.9],[-1.35,145.8],[0.85,147],[0.49,140.9],[0.15,134.2],[1.23,130.4],[1.49,127.2],[0.77,122.8],[0.23,118.9],[1.48,119.1],[1.82,116],[2.08,117.2],[-0.51,115.7],[0.21,111.2],[0.36,111.8],[0.55,112.1],[0.68,111.8],[0.75,110],[-1.48,108.3],[-0.54,105.5],[-0.25,105.1],[0,107.2],[1.25,107.6],[1.62,105.5],[0.45,104.1],[0.3,100.7],[-0.15,93.6],[0.09,92.5],[-0.34,87.5],[0.24,86.7],[-0.25,83.7],[1,85.8],[1.23,87],[1.51,84.9],[1.62,86],[2.54,85.8],[0.15,78.1],[1.43,78.4],[-3.81,137.2],[-2.47,135.4],[-2.34,131.6],[-3.52,131],[-3.96,130],[-3.81,127],[-2.8,127.9],[-3.3,119.9],[-3.17,110.2],[-2.6,111.5],[-4.79,96.2],[-2.48,94.4],[-1.95,85.5],[-2.44,84.3],[-2.31,81],[-4.16,82.6],[-2.69,77.3],[-2.48,77.3],[-3.31,72.5],[-2.71,70],[-4.93,65.2],[-3.44,65.4],[-2.76,65],[-2.22,64.6],[-1.72,69.4],[-1.53,65.5],[-1.28,68.6],[-1.04,66.5],[3.1,67.9],[-3.24,61.3],[-2.9,62.6],[-2.62,62.6],[-2.72,60.5],[-3.01,59.9],[-3.93,57.4],[-3.71,58.4],[-3.65,59.5],[-2.48,59.2],[-2.4,59.2],[-2.14,59.7],[-1.95,60.2],[-1.8,59.7],[-3.03,56.5],[-2.1,57],[-1.97,54.9],[-1.95,53.4],[-1.46,56.7],[-1.35,54.4],[-1.51,52.8],[-1.46,51.3],[-1.69,48.9],[-1.23,49.2],[-1.2,46.5],[1.97,60.7],[2.2,62.6],[2.67,59.2],[2.85,57],[2.87,52.1],[2.19,52.3],[1.81,54.9],[1.91,52.3],[-5.18,47.4],[-4.84,44.6],[-4.01,45.4],[-3.3,43.6],[-2.63,45.3],[-2.52,47.1],[-2.34,45.5],[3.17,37.3],[2.29,38.9],[2.51,38.9],[2.48,31.1],[-4.02,33.1],[-2.96,30],[-2.61,31.3],[-2.34,33.6],[-2.2,33.9],[-2.18,29],[-1.94,38.4],[-1.63,34.4],[-3.57,21.8],[-3.12,20.7],[-3.35,18.6],[-4.71,13.2],[-4.83,11.3],[-5.26,8.3],[-5.01,8.1],[-5.24,4.4],[-5.05,4.6],[-4.88,3.4],[-6.85,1.8],[-6.58,1.3],[-6.28,2.3],[-5.81,1.8],[-5.77,1.6],[-7.73,1.6],[-7.35,3.9],[2.89,16.5],[2.85,12.1],[2.78,9.4],[2.67,6.5],[3.16,2.3],[3,1.3],[2.78,1.8],[2.6,3.9],[2.5,11.8],[2.39,9.4],[2.08,12.9],[1.87,17.6],[1.82,12.3],[2.21,7.6]];
const d19aBand = [[-1.4,67.8],[-1.06,68.2],[-0.5,68.9],[-0.1,67.5],[0.25,69],[0.5,67],[0.72,66.5],[1,69.5],[1.3,66],[0.1,64.5],[0.35,63.8],[0.6,62.7],[0.85,63.5],[-0.3,63],[-1.7,59.5],[-1.3,60],[-0.9,59],[-0.6,61],[-0.2,60],[0.15,58.8],[0.4,59.5],[0.65,57.5],[0.9,60.5],[1.15,58],[1.45,59.8],[-0.75,56],[-0.45,55],[0,56.5],[0.3,54.5],[0.55,56],[0.8,55],[1.05,55.5],[1.3,56.8],[1.6,55.5],[-1.5,52.5],[-1.1,51.5],[-0.8,53],[-0.4,50],[-0.15,52],[0.1,49],[0.35,51],[0.6,48.5],[0.78,52],[1,50],[1.25,48],[1.55,51],[1.75,49],[-0.65,47],[-0.25,46],[0.2,45.5],[0.45,47],[0.7,45],[1.1,46],[1.4,44.5],[-1,46],[-1.3,42],[-0.9,40.5],[-0.55,43],[-0.2,41],[0.05,38.5],[0.3,42],[0.5,39.5],[0.75,37],[1,41],[1.2,38.5],[1.45,36.5],[1.7,40],[-1.6,38],[-0.7,36],[-0.35,35.5],[0.2,35],[0.65,36],[0.95,34.5],[1.3,33],[-1.9,36],[-2.3,31],[-1.9,29],[-1.5,32],[-1.2,27.5],[-0.85,31],[-0.5,28],[-0.2,33],[0.05,27],[0.3,30.5],[0.55,26.5],[0.8,29.5],[1.05,31.5],[1.3,27],[1.55,29],[1.8,26],[-1.7,25.5],[-0.3,25],[0.4,24.5],[0.9,25.5],[1.2,24],[2,27.5],[-3,22],[-2.6,20],[-2.2,23],[-1.9,19],[-1.6,22],[-1.3,18],[-1,21.5],[-0.7,17.5],[-0.4,22.5],[-0.1,19],[0.2,21],[0.45,17],[0.7,20.5],[0.95,18],[1.2,21.5],[1.5,17.5],[1.75,20],[2.1,18],[2.4,16],[-3.4,17],[-2.8,16],[-2.4,15.5],[-2,16.5],[-1.4,15],[-0.5,15.5],[0.3,15],[1,15.5],[-4.2,13.5],[-4.1,9],[-3.8,11],[-3.5,8],[-3.2,12],[-2.9,9],[-2.6,13],[-2.3,10],[-2,12.5],[-1.7,9.5],[-1.4,12],[-1.1,9],[-0.8,13],[-0.5,10],[-0.2,12.5],[0.1,9.5],[0.4,12],[0.7,9],[1,11.5],[1.3,8.5],[1.6,11],[1.9,8],[2.2,10],[-0.5,9],[0,8.5],[0.5,10],[-0.2,14],[0.3,13],[0.8,14.5],[-0.7,11],[1.1,13],[0.1,11],[-0.4,17],[0.6,16],[0.9,23],[0.5,28],[0,31],[0.4,36],[0.2,43],[0.8,40]];
const d19aBandMore = [[-1.8,13],[-1.5,18],[-1.2,14],[-0.9,19],[-0.6,14],[-0.3,20],[0,15],[0.3,19],[0.6,13],[0.9,20],[1.2,15],[1.5,19],[1.8,14],[-1.0,24],[-0.6,27],[-0.2,23],[0.2,28],[0.6,23],[1.0,27],[1.4,23],[-0.8,33],[-0.4,30],[0.0,35],[0.4,32],[0.8,31],[1.2,35],[-0.5,39],[0.1,41],[0.6,44],[1.1,38],[-0.2,47],[0.4,50],[0.9,48],[-0.9,44],[1.3,42],[0.0,53],[0.6,55],[-0.6,58],[0.2,61],[1.0,62]];
const d19aDense = [[-5,2.2],[-4.8,1.2],[-4.6,3],[-4.45,1.6],[-4.3,2.6],[-4.15,1],[-4,3.2],[-3.9,1.8],[-3.75,2.7],[-3.6,1.1],[-3.5,3.4],[-3.35,2],[-3.2,1.3],[-3.1,2.9],[-2.95,1.6],[-2.8,3.3],[-2.7,2.2],[-2.55,0.9],[-2.4,2.8],[-2.3,1.5],[-2.15,3.4],[-2,2],[-1.9,1],[-1.75,2.7],[-1.6,1.6],[-1.5,3.2],[-1.35,2.3],[-1.2,1],[-1.1,3],[-0.95,1.7],[-0.8,2.6],[-0.7,1.2],[-0.55,3.3],[-0.4,2],[-0.3,0.9],[-0.15,2.8],[0,1.5],[0.1,3.4],[0.25,2.1],[0.4,1],[0.5,2.9],[0.65,1.6],[0.8,3.2],[0.9,2.2],[1.05,1.1],[1.2,2.7],[1.3,1.5],[1.45,3.1],[1.6,2],[1.7,1],[1.85,2.6],[2,1.5],[2.1,3],[2.25,1.9],[2.4,1.1],[2.55,2.4],[2.7,1.4],[-4.3,5],[-4.1,4],[-3.95,6],[-3.8,4.6],[-3.6,5.6],[-3.45,4.2],[-3.3,6.3],[-3.1,5],[-2.95,4.1],[-2.8,5.8],[-2.6,4.6],[-2.45,6.4],[-2.3,5.2],[-2.1,4.2],[-1.95,6],[-1.8,4.8],[-1.6,5.9],[-1.45,4.3],[-1.3,6.5],[-1.1,5.1],[-0.95,4.2],[-0.8,6.1],[-0.6,4.7],[-0.45,5.8],[-0.3,4.3],[-0.1,6.4],[0.05,5],[0.2,4.2],[0.35,6.2],[0.55,4.8],[0.7,5.7],[0.85,4.2],[1,6.3],[1.15,5],[1.35,4.4],[1.5,5.9],[1.65,4.6],[1.85,6.2],[2,4.8],[2.2,5.6],[2.35,4.2],[2.5,5.3],[-3.9,6],[-3.4,5.5],[-3,6.5],[-2.7,5],[-2.4,7],[-2.1,5.5],[-1.8,7],[-1.5,6],[-1.2,7.5],[-0.9,5.5],[-0.6,7],[-0.3,6],[0,7.5],[0.3,5.5],[0.6,7],[0.9,6],[1.2,5],[1.5,6.5],[1.8,5],[2.1,6],[2.4,4.5]];
const d19aDenseMore = [[-4.7,0.7],[-4.55,2],[-4.35,3.6],[-4.2,1.4],[-4.05,2.4],[-3.85,0.6],[-3.7,3.8],[-3.55,2.2],[-3.4,0.8],[-3.25,3.2],[-3.05,1.8],[-2.9,0.6],[-2.75,4.2],[-2.6,2.4],[-2.45,1],[-2.25,3.6],[-2.1,1.6],[-1.95,0.7],[-1.8,3.4],[-1.65,2.4],[-1.45,0.6],[-1.3,3.8],[-1.15,1.8],[-1,0.8],[-0.85,3.6],[-0.65,2.2],[-0.5,0.6],[-0.35,3.8],[-0.2,1.8],[-0.05,0.7],[0.15,3.6],[0.3,2.4],[0.45,0.6],[0.6,3.6],[0.75,1.8],[0.95,0.7],[1.1,3.8],[1.25,2.4],[1.4,0.7],[1.55,3.4],[1.75,1.8],[1.9,0.6],[2.05,3.6],[2.2,2.4],[2.35,0.8],[2.5,3.6],[2.65,1.8],[-3.7,7.5],[-3.2,8.5],[-2.85,7.2],[-2.55,8.6],[-2.2,7.8],[-1.9,9],[-1.55,8],[-1.25,9.4],[-0.95,8.2],[-0.65,9.2],[-0.35,8],[-0.05,9.6],[0.25,8.4],[0.55,9.2],[0.85,8],[1.15,9.6],[1.45,8.4],[1.75,9],[2.05,7.8],[2.35,8.6]];
const d19aCore = [[-4.4,0.8],[-4.25,3],[-4.1,1.8],[-3.95,0.6],[-3.8,2.6],[-3.65,4],[-3.45,1.6],[-3.3,0.6],[-3.15,2.6],[-3,4],[-2.85,1.2],[-2.65,2.6],[-2.5,0.6],[-2.35,3.8],[-2.2,2.2],[-2.05,0.7],[-1.85,3.2],[-1.7,1.8],[-1.55,4.2],[-1.4,0.6],[-1.25,2.6],[-1.05,1.4],[-0.9,3.8],[-0.75,0.6],[-0.6,2.4],[-0.45,4],[-0.25,1.3],[-0.1,3.2],[0.05,0.6],[0.2,2.4],[0.35,4.2],[0.55,1.3],[0.7,3],[0.85,0.6],[1,2.2],[1.15,4],[1.35,1.2],[1.5,2.8],[1.65,0.6],[1.8,3.8],[1.95,2.2],[2.15,0.7],[2.3,3.2],[2.45,1.8],[2.6,0.6],[-3.6,9.5],[-3.3,7.2],[-3,10.5],[-2.75,7],[-2.5,11],[-2.25,7.5],[-2,9.8],[-1.75,12],[-1.5,8.4],[-1.25,11],[-1,13.5],[-0.75,8.6],[-0.5,12],[-0.25,9.2],[0,13],[0.25,10.5],[0.5,7.8],[0.75,12.5],[1,9],[1.25,11.8],[1.5,8.4],[1.75,11],[2,13],[2.25,7.4],[-2.5,18],[-2.1,21],[-1.7,16],[-1.3,20],[-0.9,16],[-0.5,19],[-0.1,17],[0.3,22],[0.7,17],[1.1,19],[1.5,22],[1.9,16],[-0.8,26],[-0.2,29],[0.4,26],[1,30],[-0.4,36],[0.6,38],[0.2,46],[-0.3,52],[0.8,58],[0.3,66]];
const d19aFit = [[-10.8,0.4],[10.8,34.1]];

const bXTicks = [-10,-5,0,5,10];
const bXLabels = ["\u221210","\u22125","0","5","10"];
const bYTicks = [0,50,100,150];
const bYLabels = ["0","50","100","150"];
const stabilizingRegion = { x0: -5.97, x1: 0.5, y0: 70, y1: 137.5 };
const destabilizingRegion = { x0: -1.71, x1: 3.63, y0: 70.2, y1: 156.2 };

// (c) net slope per mFAP-L point mutation
const netSlope = [0,0,-4,-10,-8,4,0,-6,2,-2,0,2,-2,-8,-4,0,-6,-4,-10,-6,-2,-2,-2,2,8,-4,-4,-8,-6,-6,2,-4,8,0,2,4,-4,-4,-2,-2];
const cYTicks = [-10,-5,0,5];
const cYLabels = ["\u221210","\u22125","0","5"];

// (d) mFAP-L mean rotation time
const mfapLNames = ["MFAP\u2212L","MFAP\u2212L_V13M"];
const mfapLMean = [38.2, 87.5];
const mfapLLow = [31.5, 67.8];
const mfapLHigh = [45.0, 107.4];

// (e) mFAP-A mean rotation time
const mfapANames = ["MFAP\u2212A","MFAP\u2212A_D19A","MFAP\u2212A_G20A","MFAP\u2212A_S23A"];
const mfapAMean = [81.9, 74.9, 84.9, 94.5];
const mfapALow = [71.1, 63.2, 73.9, 82.4];
const mfapAHigh = [92.6, 86.6, 96.1, 106.8];

const meanYTicks = [0,20,40,60,80,100,120];
const meanYLabels = [["0",0],["20",20],["60",60],["100",100]];

/* ====================== STYLE / LAYOUT ====================== */
const S = 4096 / 7390;
const SANS = "'Liberation Sans', Arial, Helvetica, sans-serif";
const SERIF = "'Liberation Serif', 'Times New Roman', serif";
const DARKGREEN = "#006400";
const BLUE_TXT = "#003399";
const NAVY = "#000070";
const DARKRED = "#CC0000";
const LIME = "#00FF00";
const BAR_GREEN = "#00E600";
const PALE_GREEN = "#E5FFE5";

function txt(ctx, x, y, s, size, o: any = {}) {
  ctx.save();
  ctx.font = `${o.bold ? "bold " : ""}${(size * S).toFixed(2)}px ${o.serif ? SERIF : SANS}`;
  ctx.fillStyle = o.color || "#000";
  ctx.textAlign = o.align || "center";
  ctx.textBaseline = o.base || "middle";
  ctx.translate(x, y);
  if (o.rot) ctx.rotate(-Math.PI / 2);
  ctx.fillText(s, 0, 0);
  const w = ctx.measureText(s).width;
  ctx.restore();
  return w;
}
function line(ctx, pts, lw, color = "#000") {
  ctx.save();
  ctx.strokeStyle = color;
  ctx.lineWidth = lw;
  ctx.beginPath();
  pts.forEach((p, i) => (i ? ctx.lineTo(p[0], p[1]) : ctx.moveTo(p[0], p[1])));
  ctx.stroke();
  ctx.restore();
}
function box(ctx, ca, lw) {
  ctx.save();
  ctx.strokeStyle = "#000";
  ctx.lineWidth = lw;
  ctx.strokeRect(ca.left, ca.top, ca.right - ca.left, ca.bottom - ca.top);
  ctx.restore();
}
function ticksX(ctx, sx, vals, y, len, lw) {
  ctx.save();
  ctx.strokeStyle = "#000";
  ctx.lineWidth = lw;
  ctx.beginPath();
  vals.forEach((v) => { const p = sx.getPixelForValue(v); ctx.moveTo(p, y); ctx.lineTo(p, y + len); });
  ctx.stroke();
  ctx.restore();
}
function ticksY(ctx, sy, vals, x, len, lw) {
  ctx.save();
  ctx.strokeStyle = "#000";
  ctx.lineWidth = lw;
  ctx.beginPath();
  vals.forEach((v) => { const p = sy.getPixelForValue(v); ctx.moveTo(x, p); ctx.lineTo(x - len, p); });
  ctx.stroke();
  ctx.restore();
}
function regionRect(ctx, sx, sy, r, color, lw) {
  const x0 = sx.getPixelForValue(r.x0), x1 = sx.getPixelForValue(r.x1);
  const y0 = sy.getPixelForValue(r.y0), y1 = sy.getPixelForValue(r.y1);
  ctx.save();
  ctx.strokeStyle = color;
  ctx.lineWidth = lw;
  ctx.lineJoin = "round";
  ctx.strokeRect(Math.min(x0, x1), Math.min(y0, y1), Math.abs(x1 - x0), Math.abs(y1 - y0));
  ctx.restore();
}
function polygon(ctx, G, pts, fill) {
  ctx.save();
  ctx.beginPath();
  pts.forEach((p, i) => (i ? ctx.lineTo(G.X(p[0]), G.Y(p[1])) : ctx.moveTo(G.X(p[0]), G.Y(p[1]))));
  ctx.closePath();
  ctx.fillStyle = fill;
  ctx.fill();
  ctx.strokeStyle = "#000";
  ctx.lineWidth = 2.5 * S;
  ctx.stroke();
  ctx.restore();
}

function geometry(frame, area) {
  const ox = Math.round(frame[0] * S), oy = Math.round(frame[1] * S);
  const w = Math.round(frame[2] * S) - ox, h = Math.round(frame[3] * S) - oy;
  const X = (f) => f * S - ox;
  const Y = (f) => f * S - oy;
  const pad = { left: X(area[0]), top: Y(area[1]), right: w - X(area[2]), bottom: h - Y(area[3]) };
  return { ox, oy, w, h, X, Y, pad };
}

function baseOptions(pad, xs, ys) {
  return {
    responsive: false,
    maintainAspectRatio: false,
    animation: false,
    devicePixelRatio: 1,
    events: [],
    layout: { padding: pad },
    plugins: { legend: { display: false }, tooltip: { enabled: false }, title: { display: false } },
    scales: {
      x: { type: "linear", display: false, offset: false, ...xs },
      y: { type: "linear", display: false, ...ys },
    },
  };
}
const deco = (fn) => ({ id: "deco", afterDraw: (chart) => fn(chart.ctx, chart) });
const toXY = (arr) => arr.map((p) => ({ x: p[0], y: p[1] }));

/* ---------------- panel (a) ---------------- */
function buildA(G) {
  return {
    type: "scatter",
    data: {
      datasets: [
        { type: "line", data: timeNs.map((t, i) => ({ x: t, y: rotationLine[i] })), borderColor: "#000", borderWidth: 2.2, pointRadius: 0, fill: false, tension: 0, order: 0 },
        { type: "scatter", data: toXY([...greenEarly, ...greenEarlyMore, ...greenLate, ...greenLateMore, ...greenHighEarly, ...greenHighMid, ...greenHighLate]), pointStyle: "rect", pointRadius: 1.8, pointBackgroundColor: LIME, pointBorderWidth: 0, order: 1 },
      ],
    },
    options: baseOptions(G.pad, { min: -4, max: 104 }, { min: -52.4, max: 1362.4 }),
    plugins: [deco((ctx, ch) => {
      const sx = ch.scales.x, sy = ch.scales.y, ca = ch.chartArea;
      regionRect(ctx, sx, sy, targetRegion, NAVY, 14 * S);
      box(ctx, ca, 3.5 * S);
      ticksX(ctx, sx, aXTicks, ca.bottom, 36 * S, 3.5 * S);
      ticksY(ctx, sy, aYTicks, ca.left, 36 * S, 3.5 * S);
      aXTicks.forEach((v) => txt(ctx, sx.getPixelForValue(v), G.Y(1386), String(v), 56));
      aYLabels.forEach((l, i) => txt(ctx, G.X(732), sy.getPixelForValue(aYTicks[i]), l, 56, { rot: true }));
      txt(ctx, G.X(621), G.Y(748), "Rotation Time (ps)", 112, { rot: true, color: DARKGREEN });
      txt(ctx, G.X(2423), G.Y(1490), "Ground State Time (ns)", 113, { color: "#0000FF" });
      const ann = { serif: true, bold: true, color: BLUE_TXT, align: "left", base: "alphabetic" };
      txt(ctx, G.X(1400), G.Y(500), "Stabilize the protein in", 117, ann);
      const w = txt(ctx, G.X(1400), G.Y(640), "this targeted region", 117, ann);
      const ax = G.X(1400) + w + 38 * S, ay = G.Y(600);
      ctx.save();
      ctx.strokeStyle = BLUE_TXT;
      ctx.lineWidth = 15 * S;
      ctx.beginPath();
      ctx.moveTo(ax, ay);
      ctx.lineTo(ax + 88 * S, ay);
      ctx.moveTo(ax + 50 * S, ay - 42 * S);
      ctx.lineTo(ax + 92 * S, ay);
      ctx.lineTo(ax + 50 * S, ay + 42 * S);
      ctx.stroke();
      ctx.restore();
      txt(ctx, G.X(472), G.Y(153), "(a)", 168, { serif: true, bold: true, base: "alphabetic" });
    })],
  };
}

/* ---------------- panel (b) ---------------- */
function bScatter(G, pts, fit, yMax, region, regionColor, extra) {
  return {
    type: "scatter",
    data: {
      datasets: [
        { type: "line", data: toXY(fit), borderColor: "#FF0000", borderWidth: 1.5, pointRadius: 0, fill: false, order: 0 },
        { type: "scatter", data: toXY(pts), pointRadius: 6.6, pointBackgroundColor: "rgba(0,0,0,0.3)", pointBorderWidth: 0, order: 1 },
      ],
    },
    options: baseOptions(G.pad, { min: -10.8, max: 10.8 }, { min: -5.6, max: yMax }),
    plugins: [deco((ctx, ch) => {
      const sx = ch.scales.x, sy = ch.scales.y, ca = ch.chartArea;
      regionRect(ctx, sx, sy, region, regionColor, 14 * S);
      box(ctx, ca, 2.4 * S);
      ticksX(ctx, sx, bXTicks, ca.bottom, 34 * S, 2.4 * S);
      ticksY(ctx, sy, bYTicks, ca.left, 34 * S, 2.4 * S);
      extra(ctx, ch, sx, sy, ca);
      bYLabels.forEach((l, i) => txt(ctx, G.X(4695), sy.getPixelForValue(bYTicks[i]), l, 65, { rot: true }));
      txt(ctx, G.X(4585), (ca.top + ca.bottom) / 2 + 12 * S, "Rotation Times (ps)", 110, { rot: true, color: DARKGREEN });
    })],
  };
}
function buildB1(G) {
  return bScatter(G, [...l107aSparse, ...l107aBand, ...l107aBandMore, ...l107aDense, ...l107aDenseMore, ...l107aCore], l107aFit, 160.1, stabilizingRegion, LIME, (ctx, ch, sx) => {
    bXLabels.forEach((l, i) => txt(ctx, sx.getPixelForValue(bXTicks[i]), G.Y(1472), l, 65));
    txt(ctx, G.X(5977), G.Y(86), "mFAPA_006", 66, { bold: true });
    txt(ctx, G.X(5977), G.Y(166), "Point Mutation: L107A", 66, { bold: true });
    txt(ctx, G.X(4915), G.Y(1000), "Stabilizing Long", 97, { serif: true, bold: true, color: BLUE_TXT, align: "left", base: "alphabetic" });
    txt(ctx, G.X(4915), G.Y(1115), "Rotation Times", 97, { serif: true, bold: true, color: BLUE_TXT, align: "left", base: "alphabetic" });
    txt(ctx, G.X(4367), G.Y(266), "(b)", 168, { serif: true, bold: true, base: "alphabetic" });
  });
}
function buildB2(G) {
  return bScatter(G, [...d19aSparse, ...d19aBand, ...d19aBandMore, ...d19aDense, ...d19aDenseMore, ...d19aCore], d19aFit, 160.4, destabilizingRegion, "#FF0000", (ctx, ch, sx) => {
    bXLabels.forEach((l, i) => txt(ctx, sx.getPixelForValue(bXTicks[i]), G.Y(2942), l, 65));
    txt(ctx, G.X(5977), G.Y(1556), "mFAPA_006", 66, { bold: true });
    txt(ctx, G.X(5977), G.Y(1635), "Point Mutation: D19A", 66, { bold: true });
    txt(ctx, G.X(5977), G.Y(3063), "Delta E (REU)", 109, { color: "#FFA500" });
    const ann = { serif: true, bold: true, color: BLUE_TXT, align: "left", base: "alphabetic" };
    txt(ctx, G.X(4844), G.Y(1837), "Destabilizing", 97, ann);
    txt(ctx, G.X(4844), G.Y(1954), "Long Rotation", 97, ann);
    txt(ctx, G.X(4844), G.Y(2067), "Times", 97, ann);
    polygon(ctx, G, [[4785,3200],[4882,3102],[4882,3150],[5954,3150],[5954,3248],[4882,3248],[4882,3299]], LIME);
    polygon(ctx, G, [[6015,3148],[7085,3148],[7085,3099],[7184,3196],[7085,3296],[7085,3246],[6015,3246]], "#FF0000");
    txt(ctx, G.X(5297), G.Y(3462), "Stabilizing Mutant", 145, { serif: true, bold: true, color: LIME, base: "alphabetic" });
    txt(ctx, G.X(6671), G.Y(3462), "Destabilizing Mutant", 145, { serif: true, bold: true, color: DARKRED, base: "alphabetic" });
  });
}

/* ---------------- panel (c) ---------------- */
function buildC(G) {
  return {
    type: "bar",
    data: {
      datasets: [{
        data: netSlope.map((v, i) => ({ x: i, y: v })),
        backgroundColor: (c) => { const v = c.raw ? c.raw.y : 0; return v > 0 ? "#FF0000" : v < 0 ? LIME : "#333"; },
        borderColor: "#000",
        borderWidth: (c) => (c.raw && c.raw.y !== 0 ? 1.2 : 0),
        borderSkipped: false,
        barThickness: 49 * S,
        minBarLength: 2,
        clip: false,
      }],
    },
    options: baseOptions(G.pad, { min: -1.848, max: 41 }, { min: -10, max: 5 }),
    plugins: [deco((ctx, ch) => {
      const sy = ch.scales.y, ca = ch.chartArea;
      line(ctx, [[ca.left, sy.getPixelForValue(-10)], [ca.left, sy.getPixelForValue(5)]], 2.5 * S);
      ticksY(ctx, sy, cYTicks, ca.left, 37 * S, 2.5 * S);
      cYLabels.forEach((l, i) => txt(ctx, G.X(339), sy.getPixelForValue(cYTicks[i]), l, 62, { align: "right" }));
      txt(ctx, G.X(112), G.Y(2410), "Net Slope (# Pos \u2212 # Neg )", 105, { rot: true });
      txt(ctx, G.X(2432), G.Y(1804), "Overall Stability of Long Rotation Times", 123, { bold: true });
      txt(ctx, G.X(2432), G.Y(3033), "mFAP\u2212L Point Mutations", 100, { base: "alphabetic" });
      txt(ctx, G.X(4042), G.Y(1926), "Destabilizing", 115, { serif: true, bold: true, color: DARKRED, base: "alphabetic" });
      txt(ctx, G.X(4054), G.Y(2944), "Stabilizing", 115, { serif: true, bold: true, color: LIME, base: "alphabetic" });
      txt(ctx, G.X(871), G.Y(2966), "V13M", 126, { serif: true, bold: true, color: BLUE_TXT, base: "alphabetic" });
      txt(ctx, G.X(469), G.Y(1683), "(c)", 168, { serif: true, bold: true, base: "alphabetic" });
      polygon(ctx, G, [[4420,1955],[4513,2045],[4469,2045],[4469,2355],[4371,2355],[4371,2045],[4327,2045]], "#FF0000");
      polygon(ctx, G, [[4371,2395],[4469,2395],[4469,2706],[4513,2706],[4420,2797],[4327,2706],[4371,2706]], LIME);
    })],
  };
}

/* ---------------- panels (d), (e) ---------------- */
function meanBars(G, names, means, lows, highs, colors, barW, xRange, labelX, title, titleX, letter, letterX) {
  return {
    type: "bar",
    data: {
      datasets: [{
        data: means.map((v, i) => ({ x: 0.7 + 1.2 * i, y: v })),
        backgroundColor: colors,
        borderColor: "#222",
        borderWidth: 1.2,
        borderSkipped: false,
        barThickness: barW * S,
      }],
    },
    options: baseOptions(G.pad, xRange, { min: 0, max: 120 }),
    plugins: [deco((ctx, ch) => {
      const sy = ch.scales.y, ca = ch.chartArea;
      const meta = ch.getDatasetMeta(0);
      meta.data.forEach((el, i) => {
        const x = el.x, yl = sy.getPixelForValue(lows[i]), yh = sy.getPixelForValue(highs[i]);
        const cw = 30 * S;
        line(ctx, [[x, yl], [x, yh]], 5 * S);
        line(ctx, [[x - cw, yl], [x + cw, yl]], 6 * S);
        line(ctx, [[x - cw, yh], [x + cw, yh]], 6 * S);
      });
      line(ctx, [[ca.left, ca.bottom], [ca.right, ca.bottom]], 2.5 * S);
      line(ctx, [[ca.left, sy.getPixelForValue(0)], [ca.left, sy.getPixelForValue(120)]], 2.5 * S);
      ticksY(ctx, sy, meanYTicks, ca.left, 52 * S, 2.5 * S);
      meanYLabels.forEach((l) => txt(ctx, G.X(labelX), sy.getPixelForValue(l[1]), l[0], 85, { rot: true }));
      txt(ctx, G.X(labelX - 109), G.Y(4381), "Mean Rotation Time (ps)", 110, { rot: true });
      meta.data.forEach((el, i) => txt(ctx, el.x, G.Y(4978), names[i], 85));
      txt(ctx, G.X(titleX), G.Y(3783), title, 127);
      txt(ctx, G.X(letterX), G.Y(3527), letter, 168, { serif: true, bold: true, base: "alphabetic" });
    })],
  };
}
function buildD(G) {
  return meanBars(G, mfapLNames, mfapLMean, mfapLLow, mfapLHigh, [PALE_GREEN, BAR_GREEN], 1358, { min: 0.1102, max: 2.4898 }, 461, "mFAP\u2212L Point Mutations", 2212, "(d)", 473);
}
function buildE(G) {
  return meanBars(G, mfapANames, mfapAMean, mfapALow, mfapAHigh, [BAR_GREEN, BAR_GREEN, BAR_GREEN, BAR_GREEN], 648, { min: 0.0178, max: 4.962 }, 4024, "mFAP\u2212A Point Mutations", 5766, "(e)", 4362);
}

const PANELS = [
  { key: "a", frame: [0, 0, 4450, 1560], area: [803, 183.5, 4043, 1309.7], build: buildA },
  { key: "b1", frame: [4200, 0, 7390, 1530], area: [4795, 259, 7159, 1374], build: buildB1 },
  { key: "c", frame: [0, 1560, 4560, 3150], area: [416, 2149, 4474, 2801], build: buildC },
  { key: "b2", frame: [4200, 1500, 7390, 3530], area: [4795, 1728, 7161, 2845], build: buildB2 },
  { key: "d", frame: [0, 3380, 3840, 5035], area: [596, 3843, 3828, 4919], build: buildD },
  { key: "e", frame: [3830, 3380, 7390, 5035], area: [4159, 3843, 7370, 4919], build: buildE },
];

function Panel({ def }) {
  const ref = useRef(null);
  const G = geometry(def.frame, def.area);
  useEffect(() => {
    const chart = new Chart(ref.current, def.build(G));
    return () => chart.destroy();
  }, []);
  return (
    <canvas
      ref={ref}
      width={G.w}
      height={G.h}
      style={{ position: "absolute", left: G.ox, top: G.oy, width: G.w, height: G.h }}
    />
  );
}

export default function App() {
  return (
    <div style={{ position: "absolute", left: 0, top: 0, width: 4096, height: 2791, background: "#fff", overflow: "hidden" }}>
      {PANELS.map((p) => (
        <Panel key={p.key} def={p} />
      ))}
    </div>
  );
}
